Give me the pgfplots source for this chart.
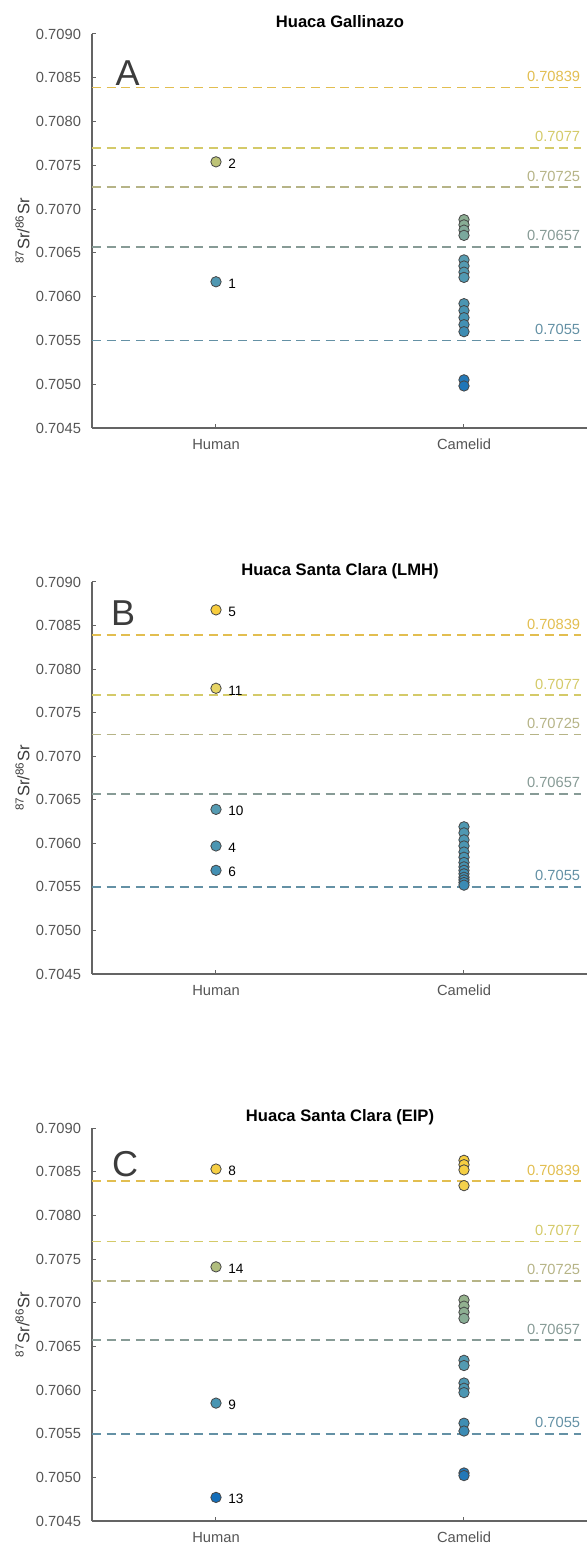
\documentclass[border=0pt]{standalone}
\usepackage{pgfplots}
\pgfplotsset{compat=1.18}
\usepackage{fontspec}
\setmainfont{Liberation Sans}
\definecolor{tickgray}{RGB}{85,85,85}
\definecolor{axgray}{RGB}{100,100,100}
\definecolor{cA}{RGB}{226,190,80}
\definecolor{cB}{RGB}{212,202,105}
\definecolor{cC}{RGB}{182,180,135}
\definecolor{cD}{RGB}{135,155,150}
\definecolor{cE}{RGB}{100,145,165}
\definecolor{edge}{RGB}{70,70,70}
\definecolor{lettergray}{RGB}{60,60,60}
\newcommand\tf{\fontsize{7.35pt}{8.8pt}\selectfont}
\newcommand\lf{\fontsize{6.8pt}{8pt}\selectfont}
\newcommand\refline[3]{%
  \addplot[draw=#1, line width=0.9pt, dash pattern=on 4.5pt off 2.8pt, forget plot] coordinates {(0.5,#2) (2.47,#2)};
  \node[anchor=base east, inner sep=0pt, text=#1, font=\tf, yshift=3pt] at (axis cs:2.47,#2) {#3};}
\newcommand\reflines{%
  \refline{cA}{0.70839}{0.70839}
  \refline{cB}{0.7077}{0.7077}
  \refline{cC}{0.70725}{0.70725}
  \refline{cD}{0.70657}{0.70657}
  \refline{cE}{0.7055}{0.7055}}
\pgfplotsset{
  colormap={sr}{rgb255(0cm)=(20,110,185) rgb255(4cm)=(45,128,182) rgb255(10cm)=(72,148,178) rgb255(16cm)=(85,155,178) rgb255(20cm)=(135,172,150) rgb255(27cm)=(182,192,122) rgb255(30cm)=(235,215,100) rgb255(39cm)=(248,205,60)},
  sraxis/.style={
    scale only axis, width=248pt, height=196.5pt,
    xmin=0.5, xmax=2.5, ymin=0.7045, ymax=0.709,
    axis lines*=left, tick pos=left, tick align=inside,
    major tick length=2pt,
    axis line style={axgray, line width=0.6pt},
    tick style={axgray, line width=0.5pt},
    xtick={1,2}, xticklabels={Human,Camelid},
    ytick={0.7045,0.705,0.7055,0.706,0.7065,0.707,0.7075,0.708,0.7085,0.709},
    scaled y ticks=false,
    /pgf/number format/assume math mode=true,
    yticklabel style={/pgf/number format/fixed, /pgf/number format/fixed zerofill, /pgf/number format/precision=4, xshift=-2pt},
    tick label style={font=\tf, text=tickgray},
    xticklabel style={yshift=-2pt},
    ylabel={\textsuperscript{87}Sr/\textsuperscript{86}Sr},
    ylabel style={at={(axis description cs:-0.140,0.5)}, anchor=center, font=\fontsize{8.3pt}{10pt}\selectfont, text=lettergray},
    title style={at={(axis description cs:0.5,1)}, anchor=base, yshift=-2.75pt, font=\bfseries\fontsize{8.3pt}{10pt}\selectfont},
    colormap name=sr, point meta min=0.7048, point meta max=0.7087,
    clip=false,
  },
  srpts/.style={scatter, only marks, mark=*, mark size=2.6pt, point meta=y,
    scatter/use mapped color={draw=edge, fill=mapped color}, mark options={line width=0.4pt}},
}
\begin{document}
\begin{tikzpicture}
% ---------------- Panel A ----------------
\begin{axis}[sraxis, at={(46pt,558pt)}, anchor=south west, height=197pt, title={Huaca Gallinazo}]
\reflines
\addplot[srpts] coordinates {
 (2,0.70688) (2,0.70682) (2,0.70676) (2,0.70670)
 (2,0.70642) (2,0.70635) (2,0.70628) (2,0.70622)
 (2,0.70592) (2,0.70584) (2,0.70576) (2,0.70568) (2,0.70560)
 (2,0.70505) (2,0.70498)};
\addplot[srpts] coordinates {(1,0.70617) (1,0.70754)};
\node[anchor=west, inner sep=0pt, font=\lf, yshift=-0.8pt] at (axis cs:1.048,0.70617) {1};
\node[anchor=west, inner sep=0pt, font=\lf, yshift=-0.8pt] at (axis cs:1.048,0.70754) {2};
\node[font=\fontsize{18pt}{20pt}\selectfont, text=lettergray] at (axis description cs:0.072,0.90) {A};
\end{axis}
% ---------------- Panel B ----------------
\begin{axis}[sraxis, at={(46pt,285pt)}, anchor=south west, height=196pt, title={Huaca Santa Clara (LMH)}]
\reflines
\addplot[srpts] coordinates {
 (2,0.70619) (2,0.70612) (2,0.70604) (2,0.70597) (2,0.70590) (2,0.70584) (2,0.70578)
 (2,0.70573) (2,0.70569) (2,0.70565) (2,0.70561) (2,0.70558) (2,0.70555) (2,0.70552)};
\addplot[srpts] coordinates {(1,0.70868) (1,0.70778) (1,0.70639) (1,0.70597) (1,0.70569)};
\node[anchor=west, inner sep=0pt, font=\lf, yshift=-0.8pt] at (axis cs:1.048,0.70868) {5};
\node[anchor=west, inner sep=0pt, font=\lf, yshift=-1.5pt] at (axis cs:1.048,0.70778) {11};
\node[anchor=west, inner sep=0pt, font=\lf, yshift=-0.8pt] at (axis cs:1.048,0.70639) {10};
\node[anchor=west, inner sep=0pt, font=\lf, yshift=-0.8pt] at (axis cs:1.048,0.70597) {4};
\node[anchor=west, inner sep=0pt, font=\lf, yshift=-0.8pt] at (axis cs:1.048,0.70569) {6};
\node[font=\fontsize{18pt}{20pt}\selectfont, text=lettergray] at (axis description cs:0.063,0.921) {B};
\end{axis}
% ---------------- Panel C ----------------
\begin{axis}[sraxis, at={(46pt,11.5pt)}, anchor=south west, height=196.5pt, title={Huaca Santa Clara (EIP)}]
\reflines
\addplot[srpts] coordinates {
 (2,0.70863) (2,0.70858) (2,0.70852) (2,0.70834)
 (2,0.70703) (2,0.70696) (2,0.70689) (2,0.70682)
 (2,0.70634) (2,0.70628)
 (2,0.70608) (2,0.70602) (2,0.70597)
 (2,0.70562) (2,0.70553)
 (2,0.70505) (2,0.70502)};
\addplot[srpts] coordinates {(1,0.70853) (1,0.70741) (1,0.70585) (1,0.70477)};
\node[anchor=west, inner sep=0pt, font=\lf, yshift=-0.8pt] at (axis cs:1.048,0.70853) {8};
\node[anchor=west, inner sep=0pt, font=\lf, yshift=-0.8pt] at (axis cs:1.048,0.70741) {14};
\node[anchor=west, inner sep=0pt, font=\lf, yshift=-0.8pt] at (axis cs:1.048,0.70585) {9};
\node[anchor=west, inner sep=0pt, font=\lf, yshift=-0.8pt] at (axis cs:1.048,0.70477) {13};
\node[font=\fontsize{18pt}{20pt}\selectfont, text=lettergray] at (axis description cs:0.067,0.908) {C};
\end{axis}
\pgfresetboundingbox
\path[use as bounding box] (0,0) rectangle (293.5pt,772pt);
\end{tikzpicture}
\end{document}
